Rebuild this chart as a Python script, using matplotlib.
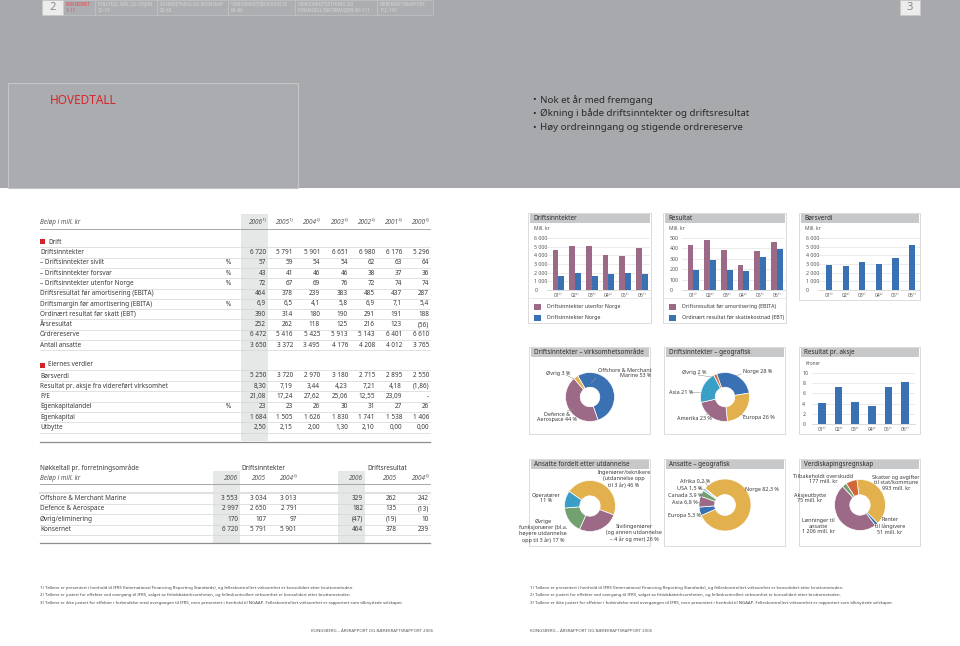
import numpy as np
import matplotlib
matplotlib.use("Agg")
import matplotlib.pyplot as plt
from matplotlib.patches import Rectangle
from matplotlib.lines import Line2D

plt.rcParams['font.family'] = ['Noto Sans', 'DejaVu Sans']

# -----------------------------
# Hovedtabell
# -----------------------------
years = ["2006¹⁾", "2005¹⁾", "2004²⁾", "2003³⁾", "2002³⁾", "2001³⁾", "2000³⁾"]
drift_rows = ["Driftsinntekter", "– Driftsinntekter sivilt", "– Driftsinntekter forsvar",
              "– Driftsinntekter utenfor Norge", "Driftsresultat før amortisering (EBITA)",
              "Driftsmargin før amortisering (EBITA)", "Ordinært resultat før skatt (EBT)",
              "Årsresultat", "Ordrereserve", "Antall ansatte"]
drift_unit = ["", "%", "%", "%", "", "%", "", "", "", ""]
drift_vals = [
    ["6 720", "5 791", "5 901", "6 651", "6 980", "6 176", "5 296"],
    ["57", "59", "54", "54", "62", "63", "64"],
    ["43", "41", "46", "46", "38", "37", "36"],
    ["72", "67", "69", "76", "72", "74", "74"],
    ["464", "378", "239", "383", "485", "437", "287"],
    ["6,9", "6,5", "4,1", "5,8", "6,9", "7,1", "5,4"],
    ["390", "314", "180", "190", "291", "191", "188"],
    ["252", "262", "118", "125", "216", "123", "(56)"],
    ["6 472", "5 416", "5 425", "5 913", "5 143", "6 401", "6 610"],
    ["3 650", "3 372", "3 495", "4 176", "4 208", "4 012", "3 765"],
]
eier_rows = ["Børsverdi", "Resultat pr. aksje fra videreført virksomhet", "P/E",
             "Egenkapitalandel", "Egenkapital", "Utbytte"]
eier_unit = ["", "", "", "%", "", ""]
eier_vals = [
    ["5 250", "3 720", "2 970", "3 180", "2 715", "2 895", "2 550"],
    ["8,30", "7,19", "3,44", "4,23", "7,21", "4,18", "(1,86)"],
    ["21,08", "17,24", "27,62", "25,06", "12,55", "23,09", "-"],
    ["23", "23", "26", "30", "31", "27", "26"],
    ["1 684", "1 505", "1 626", "1 830", "1 741", "1 538", "1 406"],
    ["2,50", "2,15", "2,00", "1,30", "2,10", "0,00", "0,00"],
]

# nøkkeltall pr. forretningsområde
omr_rows = ["Offshore & Merchant Marine", "Defence & Aerospace", "Øvrig/eliminering", "Konsernet"]
omr_years = ["2006", "2005", "2004³⁾"]
omr_inntekt = [["3 553", "3 034", "3 013"], ["2 997", "2 650", "2 791"],
               ["170", "107", "97"], ["6 720", "5 791", "5 901"]]
omr_resultat = [["329", "262", "242"], ["182", "135", "(13)"],
                ["(47)", "(19)", "10"], ["464", "378", "239"]]

# -----------------------------
# Grafer
# -----------------------------
aar = ["01³⁾", "02³⁾", "03³⁾", "04²⁾", "05¹⁾", "06¹⁾"]
inntekt_utland = [4570, 5026, 5055, 4072, 3880, 4838]
inntekt_norge = [1606, 1954, 1596, 1829, 1911, 1882]
ebita = [437, 485, 383, 239, 378, 464]
ebt = [191, 291, 190, 180, 314, 390]
borsverdi = [2895, 2715, 3180, 2970, 3720, 5250]
eps = [4.18, 7.21, 4.23, 3.44, 7.19, 8.30]

omr_andel = [53, 44, 3]
geo_andel = [28, 26, 23, 21, 2]
utd_andel = [46, 26, 17, 11]
ans_geo_andel = [82.3, 5.3, 6.8, 3.9, 1.5, 0.2]
verdi_mill = [993, 51, 1206, 75, 177]

bullets = ["Nok et år med fremgang",
           "Økning i både driftsinntekter og driftsresultat",
           "Høy ordreinngang og stigende ordrereserve"]
footnotes = [
    "1) Tallene er presentert i henhold til IFRS (International Financing Reporting Standards), og felleskontrollert virksomhet er konsolidert etter bruttometoden.",
    "2) Tallene er justert for effekter ved overgang til IFRS, salget av fritidsbåtvirksomheten, og felleskontrollert virksomhet er konsolidert etter bruttometoden.",
    "3) Tallene er ikke justert for effekter i forbindelse med overgangen til IFRS, men presentert i henhold til NGAAP. Felleskontrollert virksomhet er rapportert som tilknyttede selskaper.",
]
tabs = [("KONSERNET", "1–11"), ("STRATEGI, MÅL OG VISJON", "12–19"),
        ("ÅRSBERETNING OG REGNSKAP", "20–63"), ("VIRKSOMHETSBESKRIVELSE", "64–89"),
        ("VIRKSOMHETSSTYRING OG", "FINANSIELL INFORMASJON 90–111"),
        ("BÆREKRAFTSRAPPORT", "112–145")]

MAUVE = "#9c6a86"
BLUE = "#3a71b2"
YELLOW = "#e2b14d"
TEAL = "#3a9fc6"
GREEN = "#73a06f"
ORANGE = "#d0663a"
RED = "#d2232a"
TXT = "#3a3a3a"

W, H = 960, 646
fig = plt.figure(figsize=(W / 100, H / 100), dpi=100)


def fx(x):
    return x / W


def fy(y):
    return 1 - y / H


def txt(x, y, s, size=4.6, color=TXT, **kw):
    kw.setdefault('va', 'center')
    fig.text(fx(x), fy(y), s, fontsize=size, color=color, **kw)


def box(x0, y0, x1, y1, z=-2, **kw):
    fig.add_artist(Rectangle((fx(x0), fy(y1)), (x1 - x0) / W, (y1 - y0) / H,
                             transform=fig.transFigure, zorder=z, **kw))


def hline(x0, x1, y, color='#d4d4d4', lw=0.5, z=-1):
    fig.add_artist(Line2D([fx(x0), fx(x1)], [fy(y), fy(y)], transform=fig.transFigure,
                          color=color, lw=lw, zorder=z))


def seg(x0, y0, x1, y1):
    fig.add_artist(Line2D([fx(x0), fx(x1)], [fy(y0), fy(y1)], transform=fig.transFigure,
                          color='#999999', lw=0.4, zorder=3))


# -----------------------------
# Toppfelt
# -----------------------------
box(0, 0, W, 188, z=-3, facecolor='#a8a9ac', edgecolor='none')
tab_x = [63, 95, 157, 228, 295, 377, 433]
for i, (a, b) in enumerate(tabs):
    box(tab_x[i], 0, tab_x[i + 1], 15, facecolor='#adaeb1', edgecolor='#c3c4c6', lw=0.5)
    c = '#e8454a' if i == 0 else '#d6d6d8'
    txt(tab_x[i] + 3, 4.5, a, size=3.2, color=c)
    txt(tab_x[i] + 3, 10, b, size=3.2, color=c)
box(42, 0, 63, 15, facecolor='#ececec', edgecolor='#c8c8c8', lw=0.5)
txt(52.5, 7.5, "2", size=8, color='#888888', ha='center')
box(900, 0, 920, 15, facecolor='#ececec', edgecolor='#c8c8c8', lw=0.5)
txt(910, 7.5, "3", size=8, color='#888888', ha='center')

box(8, 83, 298, 188, facecolor='#abacaf', edgecolor='#c4c5c7', lw=0.8)
txt(50, 100, "HOVEDTALL", size=8.5, color='#d4262c')
for i, b in enumerate(bullets):
    txt(532, 100 + i * 13.5, "•", size=7, color='#2a2a2a')
    txt(540, 100 + i * 13.5, b, size=7, color='#2a2a2a')

# -----------------------------
# Hovedtabell
# -----------------------------
col_r = [266, 293, 320, 348, 375, 402, 429]
box(241, 214, 268, 441, facecolor='#e6e8e8', edgecolor='none')
txt(40, 222, "Beløp i mill. kr", style='italic', color='#555555')
for x, yr in zip(col_r, years):
    txt(x, 222, yr, ha='right', style='italic', color='#555555')
hline(40, 430, 229, color='#9a9a9a', lw=0.6)


def section(title, y_title, rows, units, vals, y0, dy):
    box(40, y_title - 2.5, 45, y_title + 2.5, z=2, facecolor=RED, edgecolor='none')
    txt(48, y_title, title, fontweight='bold')
    hline(40, 430, y_title + 5.2)
    for i, (lab, unit, row) in enumerate(zip(rows, units, vals)):
        y = y0 + i * dy
        txt(40, y, lab)
        if unit:
            txt(228, y, unit, ha='center')
        for x, v in zip(col_r, row):
            txt(x, y, v, ha='right')
        hline(40, 430, y + dy / 2)


section("Drift", 242, drift_rows, drift_unit, drift_vals, 252.5, 10.3)
section("Eiernes verdier", 365, eier_rows, eier_unit, eier_vals, 376, 10.3)
hline(40, 430, 442, color='#8c8c8c', lw=0.9)

# nøkkeltall pr. forretningsområde
box(213, 471, 240, 543, facecolor='#e6e8e8', edgecolor='none')
box(338, 471, 365, 543, facecolor='#e6e8e8', edgecolor='none')
txt(40, 468, "Nøkkeltall pr. forretningsområde", fontweight='bold')
txt(263, 468, "Driftsinntekter", fontweight='bold', ha='center')
txt(387, 468, "Driftsresultat", fontweight='bold', ha='center')
txt(40, 478, "Beløp i mill. kr", style='italic', color='#555555')
omr_col = [238, 266, 297, 363, 397, 429]
for x, yr in zip(omr_col, omr_years + omr_years):
    txt(x, 478, yr, ha='right', style='italic', color='#555555')
hline(40, 430, 484, color='#9a9a9a', lw=0.6)
hline(40, 430, 493, color='#e0e0e0', lw=1.5)
for i, lab in enumerate(omr_rows):
    y = 498.5 + i * 10.4
    txt(40, y, lab)
    for x, v in zip(omr_col, omr_inntekt[i] + omr_resultat[i]):
        txt(x, y, v, ha='right')
    hline(40, 430, y + 5.2)
hline(40, 430, 543, color='#8c8c8c', lw=0.9)

# fotnoter og bunntekst
for i, f in enumerate(footnotes):
    txt(40, 588 + i * 7.3, f, size=3.1, color='#444444')
    txt(530, 588 + i * 7.3, f, size=3.1, color='#444444')
txt(433, 631, "KONGSBERG – ÅRSRAPPORT OG BÆREKRAFTSRAPPORT 2006", size=3.1,
    color='#555555', ha='right')
txt(530, 631, "KONGSBERG – ÅRSRAPPORT OG BÆREKRAFTSRAPPORT 2006", size=3.1,
    color='#555555')


# -----------------------------
# Paneler
# -----------------------------
def panel(x0, y0, x1, y1, title):
    box(x0, y0, x1, y1, facecolor='white', edgecolor='#d6d6d6', lw=0.6)
    box(x0 + 1.5, y0 + 1, x1 - 1.5, y0 + 10, z=-1, facecolor='#c7c8ca', edgecolor='none')
    txt(x0 + 5, y0 + 5.5, title, size=4.5, fontweight='bold', color='#2b2b2b')


def bar_chart(x0, y0, x1, y1, series, colors, ymax, step, xlim, w, fmt):
    ax = fig.add_axes([fx(x0), fy(y1), (x1 - x0) / W, (y1 - y0) / H])
    ax.set_facecolor('none')
    xs = np.arange(len(aar))
    n = len(series)
    for i, (vals, c) in enumerate(zip(series, colors)):
        ax.bar(xs + (i - (n - 1) / 2) * w, vals, width=w, color=c, zorder=2)
    ax.set_xlim(*xlim)
    ax.set_ylim(0, ymax)
    ticks = np.arange(0, ymax + step / 2, step)
    ax.set_yticks(ticks)
    ax.set_yticklabels([fmt(t) for t in ticks])
    ax.set_xticks(xs)
    ax.set_xticklabels(aar)
    ax.grid(axis='y', color='#e2e2e2', lw=0.5, zorder=0)
    for s in ['top', 'right', 'left']:
        ax.spines[s].set_visible(False)
    ax.spines['bottom'].set_color('#cccccc')
    ax.spines['bottom'].set_linewidth(0.5)
    ax.tick_params(axis='y', length=0, labelsize=3.8, labelcolor='#555555', pad=9)
    ax.tick_params(axis='x', length=0, labelsize=3.6, labelcolor='#555555', pad=2)
    for lab in ax.get_yticklabels():
        lab.set_horizontalalignment('left')
    return ax


def thousands(v):
    return f"{int(v):,}".replace(",", " ")


# rad 1
panel(528, 213, 651, 323, "Driftsinntekter")
txt(534, 229, "Mill. kr", size=3.6, color='#555555')
bar_chart(547, 238, 650, 290, [inntekt_utland, inntekt_norge], [MAUVE, BLUE],
          6000, 1000, (-0.68, 5.49), 0.35, thousands)
hline(529, 650, 298, color='#e2e2e2', lw=0.5, z=-1)
box(534, 304, 541, 310, z=2, facecolor=MAUVE, edgecolor='none')
txt(547, 307, "Driftsinntekter utenfor Norge", size=3.8)
box(534, 315, 541, 321, z=2, facecolor=BLUE, edgecolor='none')
txt(547, 318, "Driftsinntekter Norge", size=3.8)

panel(663, 213, 786, 323, "Resultat")
txt(669, 229, "Mill. kr", size=3.6, color='#555555')
bar_chart(682, 238, 785, 290, [ebita, ebt], [MAUVE, BLUE],
          500, 100, (-0.68, 5.49), 0.35, lambda v: f"{int(v)}")
hline(664, 785, 298, color='#e2e2e2', lw=0.5, z=-1)
box(669, 304, 676, 310, z=2, facecolor=MAUVE, edgecolor='none')
txt(682, 307, "Driftsresultat før amortisering (EBITA)", size=3.8)
box(669, 315, 676, 321, z=2, facecolor=BLUE, edgecolor='none')
txt(682, 318, "Ordinært resultat før skattekostnad (EBT)", size=3.8)

panel(799, 213, 920, 300, "Børsverdi")
txt(805, 229, "Mill. kr", size=3.6, color='#555555')
bar_chart(818, 238, 920, 290, [borsverdi], [BLUE],
          6000, 1000, (-0.68, 5.49), 0.38, thousands)

# rad 2
panel(529, 347, 650, 434, "Driftsinntekter – virksomhetsområde")
panel(664, 347, 785, 434, "Driftsinntekter – geografisk")
panel(799, 347, 920, 434, "Resultat pr. aksje")
txt(805, 363, "Kroner", size=3.4, color='#555555')
ax = bar_chart(812, 373, 915, 424, [eps], [BLUE],
               10, 2, (-0.6, 5.6), 0.45, lambda v: f"{int(v)}")
ax.tick_params(axis='y', pad=7)

# rad 3
panel(529, 459, 650, 546, "Ansatte fordelt etter utdannelse")
panel(664, 459, 785, 546, "Ansatte – geografisk")
panel(799, 459, 920, 546, "Verdiskapingsregnskap")


def donut(cx, cy, r, vals, colors, start):
    ax = fig.add_axes([fx(cx - r), fy(cy + r), 2 * r / W, 2 * r / H])
    ax.pie(vals, colors=colors, startangle=start, counterclock=False, radius=1,
           wedgeprops=dict(width=0.6, edgecolor='white', linewidth=0.5))
    ax.set_xlim(-1, 1)
    ax.set_ylim(-1, 1)
    ax.axis('off')


donut(590, 397, 24.5, omr_andel, [BLUE, MAUVE, YELLOW], 120)
txt(546, 373, "Øvrig 3 %", size=3.9)
txt(598, 373, "Offshore & Merchant\nMarine 53 %", size=3.9, ha='left', multialignment='right')
txt(537, 417, "Defence &\nAerospace 44 %", size=3.9, multialignment='center')
seg(566, 375, 574, 379)
seg(596, 378, 591, 383)
seg(567, 411, 573, 409)

donut(725, 397, 24.5, geo_andel, [BLUE, YELLOW, MAUVE, TEAL, ORANGE], 110)
txt(682, 372, "Øvrig 2 %", size=3.9)
txt(743, 372, "Norge 28 %", size=3.9)
txt(669, 392, "Asia 21 %", size=3.9)
txt(677, 418, "Amerika 23 %", size=3.9)
txt(743, 418, "Europa 26 %", size=3.9)
seg(698, 375, 712, 377)
seg(741, 374, 736, 376)
seg(691, 392, 700, 392)
seg(740, 414, 745, 416)
seg(706, 415, 709, 413)

donut(590, 506, 25.5, utd_andel, [YELLOW, MAUVE, GREEN, TEAL], 145)
txt(624, 479, "Ingeniører/teknikere\n(utdannelse opp\ntil 3 år) 46 %", size=3.9,
    ha='center', multialignment='center')
txt(546, 498, "Operatører\n11 %", size=3.9, ha='center', multialignment='center')
txt(543, 531, "Øvrige\nfunksjonærer (bl.a.\nhøyere utdannelse\nopp til 3 år) 17 %", size=3.9,
    ha='center', multialignment='center')
txt(634, 533, "Sivilingeniører\n(og annen utdannelse\n– 4 år og mer) 26 %", size=3.9,
    ha='center', multialignment='center')

donut(725, 505, 26, ans_geo_andel, [YELLOW, BLUE, MAUVE, GREEN, '#9fd0e0', ORANGE], 140)
txt(680, 481, "Afrika 0,2 %", size=3.9)
txt(677, 488, "USA 1,5 %", size=3.9)
txt(668, 495, "Canada 3,9 %", size=3.9)
txt(672, 502, "Asia 6,8 %", size=3.9)
txt(668, 516, "Europa 5,3 %", size=3.9)
txt(745, 490, "Norge 82,3 %", size=3.9)
seg(704, 481, 708, 486)
seg(698, 488, 706, 490)
seg(700, 495, 704, 496)
seg(697, 502, 701, 502)

donut(860, 505, 25.5, verdi_mill, [YELLOW, BLUE, MAUVE, GREEN, ORANGE], 97)
txt(823, 479, "Tilbakeholdt overskudd\n177 mill. kr", size=3.9, ha='center',
    multialignment='center')
txt(810, 498, "Aksjeutbytte\n75 mill. kr", size=3.9, ha='center', multialignment='center')
txt(896, 483, "Skatter og avgifter\ntil stat/kommune\n993 mill. kr", size=3.9, ha='center',
    multialignment='center')
txt(890, 526, "Renter\ntil långivere\n51 mill. kr", size=3.9, ha='center',
    multialignment='center')
txt(818, 526, "Lønninger til\nansatte\n1 206 mill. kr", size=3.9, ha='center',
    multialignment='center')

fig.savefig("out.png", dpi=100, facecolor='white')
